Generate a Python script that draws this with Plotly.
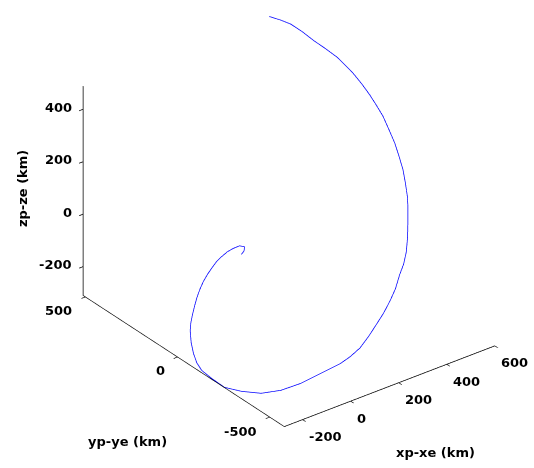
import plotly.graph_objects as go

# Relative position of pursuer minus evader (km), sampled along the trajectory
xp_xe = [-10.9, -0.5, 4.2, -9.3, -31.8, -52.4, -75.5, -97.7, -119.5, -139.9,
         -160.5, -181.5, -200.3, -217.5, -233.6, -248.5, -260.1, -269.7, -274.7, -275.9,
         -273.2, -274.2, -275.3, -249.4, -209.1, -167.4, -122.9, -73.2, -20.4, 11.0,
         42.1, 75.7, 108.6, 141.9, 175.5, 213.4, 251.9, 293.0, 334.2, 377.8,
         420.9, 466.5, 503.8, 536.6, 566.2, 585.0, 599.7, 599.1, 598.1, 598.7,
         599.2, 599.9, 598.6, 595.0, 590.5, 577.8, 564.9, 550.1, 534.3, 517.0,
         495.0]
yp_ye = [-0.3, -1.2, 1.7, 11.0, 17.1, 20.8, 22.8, 22.3, 19.3, 15.5,
         10.3, 2.8, -5.6, -15.9, -26.0, -36.3, -47.8, -65.6, -85.0, -104.4,
         -127.8, -182.8, -254.0, -311.5, -366.3, -419.3, -468.6, -511.3, -549.8, -564.2,
         -575.7, -578.5, -578.5, -572.7, -562.8, -543.9, -516.8, -484.7, -445.3, -395.4,
         -340.8, -281.4, -229.4, -176.0, -124.4, -78.4, -36.2, -6.1, 24.6, 60.8,
         97.6, 141.4, 186.4, 224.8, 265.1, 311.2, 357.3, 400.3, 442.6, 473.8,
         508.1]
zp_ze = [-11.9, -2.3, 10.9, 15.2, 10.1, 3.3, -8.4, -20.4, -35.5, -50.3,
         -67.1, -87.6, -108.9, -129.4, -150.4, -172.2, -194.1, -226.8, -258.7, -284.6,
         -303.8, -308.5, -309.5, -307.3, -303.9, -282.9, -249.6, -209.8, -173.0, -149.9,
         -122.8, -89.1, -54.3, -27.2, 1.8, 27.7, 55.7, 66.9, 80.8, 99.2,
         115.7, 135.4, 136.2, 150.4, 166.5, 189.4, 215.1, 251.7, 288.6, 313.2,
         336.2, 357.4, 377.7, 392.6, 407.4, 423.3, 436.9, 456.4, 471.7, 478.5,
         484.4]

x_ticks = [-200, 0, 200, 400, 600]
y_ticks = [-500, 0, 500]
z_ticks = [-200, 0, 200, 400]

x_range = [-276, 600]
y_range = [-579, 512]
z_range = [-310, 488]

FONT = "DejaVu Sans"
label_font = dict(family=FONT, size=13, color="black", weight="bold")

fig = go.Figure(go.Scatter3d(
    x=xp_xe, y=yp_ye, z=zp_ze,
    mode="lines",
    line=dict(color="rgb(0,0,255)", width=1.5),
    hoverinfo="skip",
))


def axis(rng, ticks):
    return dict(
        range=rng, autorange=False,
        tickvals=ticks,
        showticklabels=False,
        showbackground=False, showgrid=False, zeroline=False,
        showline=True, linecolor="black", linewidth=1.6,
        ticks="outside", ticklen=5, tickcolor="black", tickwidth=1.6,
        showspikes=False,
        title=dict(text=""),
    )


# horizontal tick labels placed at the tick positions on each box edge
scene_labels = []
for v in z_ticks:
    scene_labels.append(dict(x=x_range[0], y=y_range[1], z=v, text=str(v),
                             xanchor="right", yanchor="middle", xshift=-9, yshift=2))
for v in y_ticks:
    scene_labels.append(dict(x=x_range[0], y=v, z=z_range[0], text=str(v),
                             xanchor="right", yanchor="middle", xshift=-11, yshift=-14))
for v in x_ticks:
    scene_labels.append(dict(x=v, y=y_range[0], z=z_range[0], text=str(v),
                             xanchor="left", yanchor="middle", xshift=4, yshift=-17))
for a in scene_labels:
    a.update(showarrow=False, font=label_font)

# equal data aspect: box sides proportional to the axis spans
spans = [x_range[1] - x_range[0], y_range[1] - y_range[0], z_range[1] - z_range[0]]
m = max(spans)
K = 1.53
L = 1.30
fig.update_layout(
    width=534, height=468,
    margin=dict(l=0, r=0, t=0, b=0),
    paper_bgcolor="white",
    showlegend=False,
    scene=dict(
        domain=dict(x=[0.0824, 1.0], y=[0.077, 1.0]),
        xaxis=axis(x_range, x_ticks),
        yaxis=axis(y_range, y_ticks),
        zaxis=axis(z_range, z_ticks),
        aspectmode="manual",
        aspectratio=dict(x=K * spans[0] / m, y=K * spans[1] / m, z=K * spans[2] / m),
        camera=dict(
            projection=dict(type="orthographic"),
            eye=dict(x=-0.527 * L, y=-0.687 * L, z=0.5 * L),
            up=dict(x=0, y=0, z=1),
            center=dict(x=0, y=0, z=0),
        ),
        annotations=scene_labels,
        bgcolor="white",
    ),
)

fig.add_annotation(text="zp-ze (km)", xref="paper", yref="paper",
                   x=22 / 534, y=1 - 188 / 468, textangle=-90,
                   xanchor="center", yanchor="middle",
                   showarrow=False, font=label_font)
fig.add_annotation(text="yp-ye (km)", xref="paper", yref="paper",
                   x=127 / 534, y=1 - 441 / 468,
                   xanchor="center", yanchor="middle",
                   showarrow=False, font=label_font)
fig.add_annotation(text="xp-xe (km)", xref="paper", yref="paper",
                   x=435 / 534, y=1 - 452 / 468,
                   xanchor="center", yanchor="middle",
                   showarrow=False, font=label_font)

fig.write_html("out.html", config={"displayModeBar": False})
